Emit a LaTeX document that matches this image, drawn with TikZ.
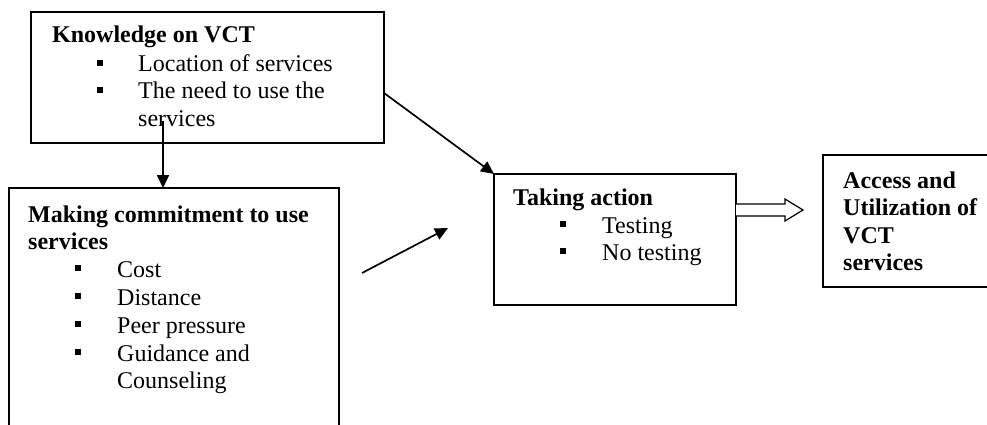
\documentclass[tikz,border=0pt]{standalone}
\usepackage{fontspec}
\setmainfont{Liberation Serif}
\usetikzlibrary{arrows.meta}
\tikzset{
  box/.style={draw, line width=1.3pt, inner sep=0pt, outer sep=0pt, anchor=north west},
  txt/.style={anchor=base west, inner sep=0pt, font=\fontsize{24}{28}\selectfont},
  hdr/.style={txt, font=\fontsize{24}{28}\selectfont\bfseries},
  blt/.style={fill, inner sep=0pt, minimum size=6.5pt, draw=none},
  conn/.style={line width=1.7pt, -{Triangle[length=13pt,width=12pt]}},
  hollow/.style={draw, line width=1.2pt, fill=white, line join=miter}
}
\begin{document}
\begin{tikzpicture}[x=1pt, y=-1pt]
\useasboundingbox (0,0) rectangle (987,425);
\clip (0,0) rectangle (987,425);
\fill[white] (0,0) rectangle (987,425);

% boxes
\node[box, minimum width=353pt, minimum height=131pt] (box1) at (31,12) {};
\node[box, minimum width=330pt, minimum height=260pt] (box2) at (9,188) {};
\node[box, minimum width=242pt, minimum height=131pt] (box3) at (494,174) {};
\node[box, minimum width=200pt, minimum height=132pt] (box4) at (823,155) {};

% box1 text
\node[hdr] (k0) at (52,43) {Knowledge on VCT};
\node[blt] (kb1) at (100,63) {};
\node[txt] (k1) at (138,72) {Location of services};
\node[blt] (kb2) at (100,90) {};
\node[txt] (k2) at (138,99) {The need to use the};
\node[txt] (k3) at (138,127) {services};

% box2 text
\node[hdr] (m0) at (28,222) {Making commitment to use};
\node[hdr] (m1) at (28,249) {services};
\node[blt] (mb1) at (78,268) {};
\node[txt] (m2) at (117,277) {Cost};
\node[blt] (mb2) at (78,296) {};
\node[txt] (m3) at (117,305) {Distance};
\node[blt] (mb3) at (78,324) {};
\node[txt] (m4) at (117,333) {Peer pressure};
\node[blt] (mb4) at (78,352) {};
\node[txt] (m5) at (117,361) {Guidance and};
\node[txt] (m6) at (117,388) {Counseling};

% box3 text
\node[hdr] (t0) at (513,205) {Taking action};
\node[blt] (tb1) at (563,224) {};
\node[txt] (t1) at (602,233) {Testing};
\node[blt] (tb2) at (563,251) {};
\node[txt] (t2) at (602,260) {No testing};

% box4 text
\node[hdr] (a0) at (843,188) {Access and};
\node[hdr] (a1) at (843,215.5) {Utilization of};
\node[hdr] (a2) at (843,243) {VCT};
\node[hdr] (a3) at (843,270.5) {services};

% connectors
\coordinate (s1) at (384,93);
\draw[conn] (s1) -- (box3.north west);
\coordinate (s2) at (163,121);
\draw[conn] (s2) -- (s2 |- box2.north);
\coordinate (s3) at (362,273);
\coordinate (e3) at (448,228);
\draw[conn] (s3) -- (e3);

% hollow arrow
\coordinate (h0) at (box3.east |- 0,210);
\coordinate (h1) at (803,210);
\draw[hollow] ([shift={(0,-6)}]h0) -- (785,204) -- (785,199) -- (h1) -- (785,221) -- (785,216) -- ([shift={(0,6)}]h0);
\end{tikzpicture}
\end{document}
